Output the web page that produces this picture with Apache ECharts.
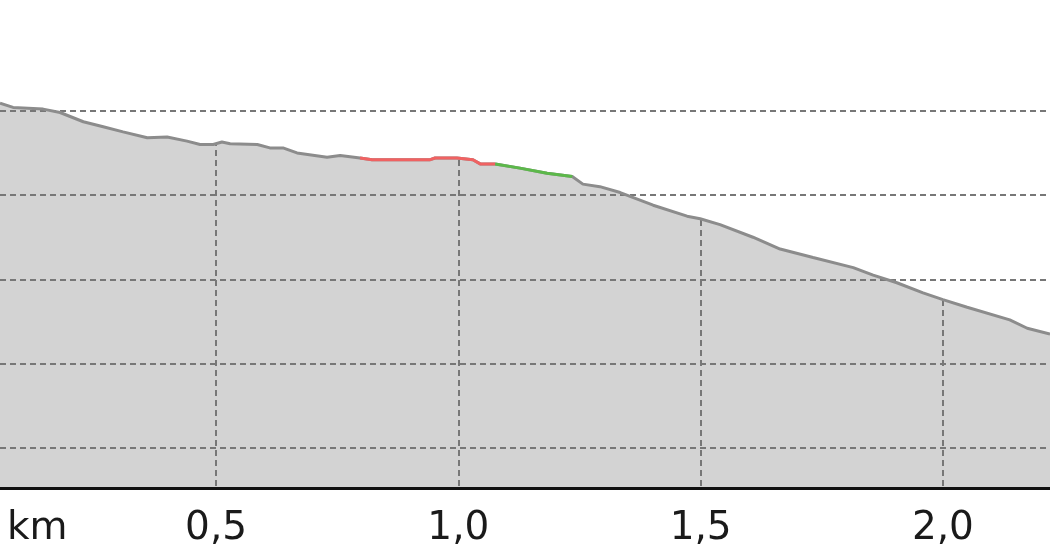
<!DOCTYPE html>
<html>
<head>
<meta charset="utf-8">
<script src="https://cdn.jsdelivr.net/npm/echarts@6/dist/echarts.min.js"></script>
<style>html,body{margin:0;padding:0;background:#fff}#c{width:1050px;height:560px}</style>
</head>
<body>
<div id="c"></div>
<script>
// Distance along the route (km) and elevation (m)
const distKm = [0.054,0.081,0.143,0.178,0.226,0.267,0.308,0.358,0.399,0.440,0.467,0.494,0.512,0.529,0.585,0.611,0.638,0.667,0.729,0.756,0.797,0.822,0.942,0.952,0.997,1.030,1.045,1.076,1.127,1.183,1.235,1.257,1.292,1.334,1.402,1.472,1.499,1.540,1.608,1.664,1.732,1.815,1.856,1.905,1.959,2.000,2.050,2.138,2.174,2.221];
const elevM = [520.9,520.4,520.2,519.8,518.7,518.1,517.5,516.8,516.9,516.4,516.0,516.0,516.3,516.1,516.0,515.6,515.6,515.0,514.5,514.7,514.4,514.2,514.2,514.4,514.4,514.2,513.7,513.7,513.2,512.6,512.2,511.3,511.0,510.3,508.8,507.5,507.2,506.5,505.0,503.6,502.6,501.4,500.5,499.6,498.4,497.6,496.7,495.2,494.2,493.5];
// highlighted stretches (km from, km to)
const redStretch = [0.797, 1.076];
const greenStretch = [1.076, 1.235];
const unitLabel = 'km';

const profile = distKm.map((d, i) => [d, elevM[i]]);
const pick = r => profile.filter(p => p[0] >= r[0] - 1e-9 && p[0] <= r[1] + 1e-9);

const FONT = 'DejaVu Sans';
const chart = echarts.init(document.getElementById('c'), null, {renderer: 'canvas'});
chart.setOption({
  animation: false,
  grid: {left: 0, right: 0, top: 40, bottom: 72, containLabel: false},
  xAxis: {
    type: 'value', z: 2,
    min: distKm[0], max: distKm[distKm.length - 1],
    splitNumber: 5,
    axisLine: {show: true, lineStyle: {color: '#111', width: 3}},
    axisTick: {show: false},
    axisLabel: {
      show: true, margin: 21, fontFamily: FONT, fontSize: 39, color: '#1a1a1a',
      showMinLabel: false, showMaxLabel: false,
      formatter: v => v.toFixed(1).replace('.', ',')
    },
    splitLine: {show: true, showMinLine: false, showMaxLine: false,
      lineStyle: {color: '#777', width: 2, type: [6, 4]}}
  },
  yAxis: {
    type: 'value', z: 4,
    min: 475.25, max: 528.4, splitNumber: 5,
    axisLine: {show: false}, axisTick: {show: false}, axisLabel: {show: false},
    splitLine: {show: true, showMinLine: false, showMaxLine: false,
      lineStyle: {color: '#777', width: 2, type: [6, 4]}}
  },
  graphic: [{
    type: 'text', left: 7, top: 509, z: 10,
    style: {text: unitLabel, font: '39px "DejaVu Sans"', fill: '#1a1a1a'}
  }],
  series: [
    {type: 'line', z: 1, data: profile, showSymbol: false, symbol: 'none',
      lineStyle: {width: 0}, areaStyle: {color: '#d3d3d3', opacity: 1, origin: 'start'}},
    {type: 'line', z: 3, data: profile, showSymbol: false, symbol: 'none',
      lineStyle: {width: 0}, areaStyle: {color: '#ffffff', opacity: 1, origin: 'end'}},
    {type: 'line', z: 5, data: profile, showSymbol: false, symbol: 'none',
      lineStyle: {width: 3, color: '#8c8c8c'}},
    {type: 'line', z: 6, data: pick(redStretch), showSymbol: false, symbol: 'none',
      lineStyle: {width: 3, color: '#f06262'}},
    {type: 'line', z: 6, data: pick(greenStretch), showSymbol: false, symbol: 'none',
      lineStyle: {width: 3, color: '#5cb84a'}}
  ]
});
</script>
</body>
</html>
